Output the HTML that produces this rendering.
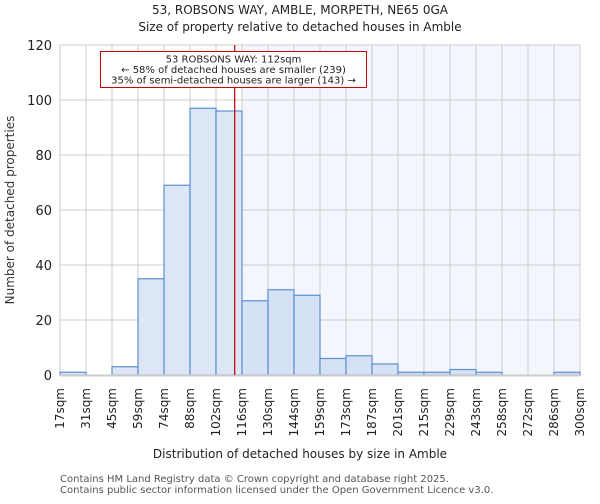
<!DOCTYPE html>
<html><head><meta charset="utf-8"><style>
body{margin:0;background:#fff;font-family:"DejaVu Sans","Liberation Sans",sans-serif}
</style></head><body>
<svg width="600" height="500" xmlns="http://www.w3.org/2000/svg" font-family="DejaVu Sans, Liberation Sans, sans-serif">
<text x="300" y="14" text-anchor="middle" font-size="12" fill="#222">53, ROBSONS WAY, AMBLE, MORPETH, NE65 0GA</text>
<text x="300" y="31" text-anchor="middle" font-size="12" fill="#222">Size of property relative to detached houses in Amble</text>
<g id="plot"></g>
<text x="300" y="458" text-anchor="middle" font-size="12" fill="#222">Distribution of detached houses by size in Amble</text>
<text x="14" y="210" text-anchor="middle" font-size="12" fill="#333" transform="rotate(-90 14 210)">Number of detached properties</text>
<text x="60" y="482" font-size="10" fill="#555">Contains HM Land Registry data © Crown copyright and database right 2025.</text>
<text x="60" y="493" font-size="10" fill="#555">Contains public sector information licensed under the Open Government Licence v3.0.</text>
</svg>
<script>
const categories=["17sqm","31sqm","45sqm","59sqm","74sqm","88sqm","102sqm","116sqm","130sqm","144sqm","159sqm","173sqm","187sqm","201sqm","215sqm","229sqm","243sqm","258sqm","272sqm","286sqm","300sqm"];
const counts=[1,0,3,35,69,97,96,27,31,29,6,7,4,1,1,2,1,0,0,1];
const yTicks=[0,20,40,60,80,100,120];
const propertyBin=6.72;
const L=60,R=580,T=45,B=375,yMax=120;
const NS="http://www.w3.org/2000/svg";
const g=document.getElementById('plot');
const bw=(R-L)/counts.length;
const xs=i=>L+i*bw;
const ys=v=>B-(v/yMax)*(B-T);
function el(t,a){const e=document.createElementNS(NS,t);for(const k in a)e.setAttribute(k,a[k]);g.appendChild(e);return e;}
const hx=xs(propertyBin);
const shadeStart=xs(Math.ceil(propertyBin));
let s=el('rect',{x:shadeStart,y:T,width:R-shadeStart,height:B-T,fill:'#f3f6fd'});


yTicks.forEach(v=>{
 let l=el('line',{x1:L,x2:R,y1:ys(v),y2:ys(v),stroke:'#ccc','stroke-width':1});
 
 
 let t=el('text',{x:L-8,y:ys(v)+5,'text-anchor':'end','font-size':13,fill:'#222'});
 t.textContent=v;
 
 
});
categories.forEach((c,i)=>{
 let l=el('line',{x1:xs(i),x2:xs(i),y1:T,y2:B,stroke:'#ccc','stroke-width':1});
 
 
 let x=xs(i)+4,y=388;
 let t=el('text',{x:x,y:y,'text-anchor':'end','font-size':12,fill:'#222',transform:`rotate(-90 ${x} ${y})`});
 t.textContent=c;
 
 
});
counts.forEach((v,i)=>{
 if(v<=0)return;
 let r=el('rect',{x:xs(i),y:ys(v),width:bw,height:B-ys(v),fill:i<Math.ceil(propertyBin)?'#dce6f5':'#d5e1f4',stroke:'#5b8fd6','stroke-width':1.2});
 
 
});
let ax=el('line',{x1:L,x2:R,y1:B+0.5,y2:B+0.5,stroke:'#ccc','stroke-width':2});


let ml=el('line',{x1:hx,x2:hx,y1:T,y2:B,stroke:'#b00','stroke-width':1.2});


let box=el('rect',{x:100.5,y:51.5,width:266,height:36,fill:'#fff',stroke:'#c00','stroke-width':1});


["53 ROBSONS WAY: 112sqm","← 58% of detached houses are smaller (239)","35% of semi-detached houses are larger (143) →"].forEach((s2,k)=>{
 let t=el('text',{x:233.5,y:62.5+k*10.5,'text-anchor':'middle','font-size':10,fill:'#222'});
 t.textContent=s2;
 
 
});
</script>
</body></html>
